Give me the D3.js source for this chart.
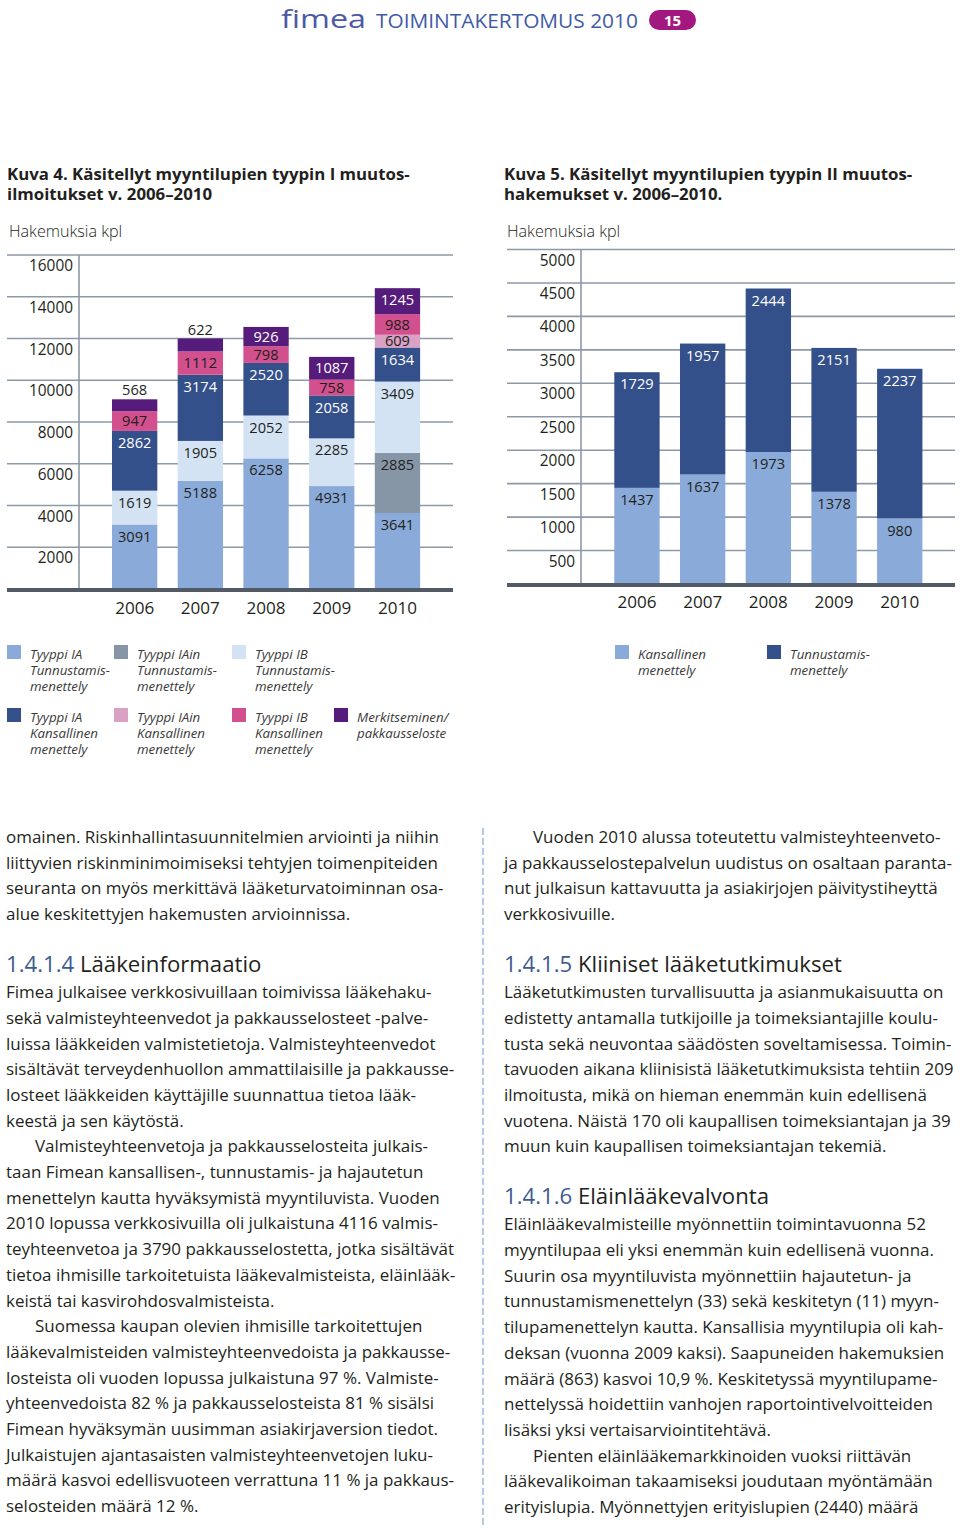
<!DOCTYPE html>
<html>
<head>
<meta charset="utf-8">
<script src="https://cdn.jsdelivr.net/npm/d3@7"></script>
<style>
  body { margin: 0; background: #fff; }
  svg { display: block; }
</style>
</head>
<body>
<script>
//years shared by both charts
var years = ["2006", "2007", "2008", "2009", "2010"];

//Kuva 4 series, bottom to top of each stack
var iaTunnustamis = [3091, 5188, 6258, 4931, 3641];
var iainTunnustamis = [0, 0, 0, 0, 2885];
var ibTunnustamis = [1619, 1905, 2052, 2285, 3409];
var iaKansallinen = [2862, 3174, 2520, 2058, 1634];
var iainKansallinen = [0, 0, 0, 0, 609];
var ibKansallinen = [947, 1112, 798, 758, 988];
var merkitseminen = [568, 622, 926, 1087, 1245];
var ticks4 = [2000, 4000, 6000, 8000, 10000, 12000, 14000, 16000];

//Kuva 5 series
var kansallinen = [1437, 1637, 1973, 1378, 980];
var tunnustamis = [1729, 1957, 2444, 2151, 2237];
var ticks5 = [500, 1000, 1500, 2000, 2500, 3000, 3500, 4000, 4500, 5000];

//legend texts
var legend4Names = [
    ["Tyyppi IA", "Tunnustamis-", "menettely"],
    ["Tyyppi IAin", "Tunnustamis-", "menettely"],
    ["Tyyppi IB", "Tunnustamis-", "menettely"],
    ["Tyyppi IA", "Kansallinen", "menettely"],
    ["Tyyppi IAin", "Kansallinen", "menettely"],
    ["Tyyppi IB", "Kansallinen", "menettely"],
    ["Merkitseminen/", "pakkausseloste"]
];
var legend5Names = [
    ["Kansallinen", "menettely"],
    ["Tunnustamis-", "menettely"]
];

//body text, one entry per printed line
var leftLines = [
    {t: "omainen. Riskinhallintasuunnitelmien arviointi ja niihin"},
    {t: "liittyvien riskinminimoimiseksi tehtyjen toimenpiteiden"},
    {t: "seuranta on myös merkittävä lääketurvatoiminnan osa-"},
    {t: "alue keskitettyjen hakemusten arvioinnissa."},
    {h: "1.4.1.4", t: "Lääkeinformaatio"},
    {t: "Fimea julkaisee verkkosivuillaan toimivissa lääkehaku-"},
    {t: "sekä valmisteyhteenvedot ja pakkausselosteet -palve-"},
    {t: "luissa lääkkeiden valmistetietoja. Valmisteyhteenvedot"},
    {t: "sisältävät terveydenhuollon ammattilaisille ja pakkausse-"},
    {t: "losteet lääkkeiden käyttäjille suunnattua tietoa lääk-"},
    {t: "keestä ja sen käytöstä."},
    {t: "Valmisteyhteenvetoja ja pakkausselosteita julkais-", indent: true},
    {t: "taan Fimean kansallisen-, tunnustamis- ja hajautetun"},
    {t: "menettelyn kautta hyväksymistä myyntiluvista. Vuoden"},
    {t: "2010 lopussa verkkosivuilla oli julkaistuna 4116 valmis-"},
    {t: "teyhteenvetoa ja 3790 pakkausselostetta, jotka sisältävät"},
    {t: "tietoa ihmisille tarkoitetuista lääkevalmisteista, eläinlääk-"},
    {t: "keistä tai kasvirohdosvalmisteista."},
    {t: "Suomessa kaupan olevien ihmisille tarkoitettujen", indent: true},
    {t: "lääkevalmisteiden valmisteyhteenvedoista ja pakkausse-"},
    {t: "losteista oli vuoden lopussa julkaistuna 97 %. Valmiste-"},
    {t: "yhteenvedoista 82 % ja pakkausselosteista 81 % sisälsi"},
    {t: "Fimean hyväksymän uusimman asiakirjaversion tiedot."},
    {t: "Julkaistujen ajantasaisten valmisteyhteenvetojen luku-"},
    {t: "määrä kasvoi edellisvuoteen verrattuna 11 % ja pakkaus-"},
    {t: "selosteiden määrä 12 %."}
];
var rightLines = [
    {t: "Vuoden 2010 alussa toteutettu valmisteyhteenveto-", indent: true},
    {t: "ja pakkausselostepalvelun uudistus on osaltaan paranta-"},
    {t: "nut julkaisun kattavuutta ja asiakirjojen päivitystiheyttä"},
    {t: "verkkosivuille."},
    {h: "1.4.1.5", t: "Kliiniset lääketutkimukset"},
    {t: "Lääketutkimusten turvallisuutta ja asianmukaisuutta on"},
    {t: "edistetty antamalla tutkijoille ja toimeksiantajille koulu-"},
    {t: "tusta sekä neuvontaa säädösten soveltamisessa. Toimin-"},
    {t: "tavuoden aikana kliinisistä lääketutkimuksista tehtiin 209"},
    {t: "ilmoitusta, mikä on hieman enemmän kuin edellisenä"},
    {t: "vuotena. Näistä 170 oli kaupallisen toimeksiantajan ja 39"},
    {t: "muun kuin kaupallisen toimeksiantajan tekemiä."},
    {h: "1.4.1.6", t: "Eläinlääkevalvonta"},
    {t: "Eläinlääkevalmisteille myönnettiin toimintavuonna 52"},
    {t: "myyntilupaa eli yksi enemmän kuin edellisenä vuonna."},
    {t: "Suurin osa myyntiluvista myönnettiin hajautetun- ja"},
    {t: "tunnustamismenettelyn (33) sekä keskitetyn (11) myyn-"},
    {t: "tilupamenettelyn kautta. Kansallisia myyntilupia oli kah-"},
    {t: "deksan (vuonna 2009 kaksi). Saapuneiden hakemuksien"},
    {t: "määrä (863) kasvoi 10,9 %. Keskitetyssä myyntilupame-"},
    {t: "nettelyssä hoidettiin vanhojen raportointivelvoitteiden"},
    {t: "lisäksi yksi vertaisarviointitehtävä."},
    {t: "Pienten eläinlääkemarkkinoiden vuoksi riittävän", indent: true},
    {t: "lääkevalikoiman takaamiseksi joudutaan myöntämään"},
    {t: "erityislupia. Myönnettyjen erityislupien (2440) määrä"}
];

var FONT = "'Open Sans', 'Noto Sans', sans-serif";
var TEXT = "#231f20";

var svg = d3.select("body")
    .append("svg")
    .attr("width", 960)
    .attr("height", 1531)
    .attr("font-family", FONT);

//find the font size that gives a string the width it has in print
function fitSize(str, width, weight, style){
    var t = svg.append("text")
        .attr("font-size", 100)
        .attr("font-weight", weight || 400)
        .attr("font-style", style || "normal")
        .text(str);
    var w = t.node().getComputedTextLength();
    t.remove();
    return 100 * width / w;
}

var bodySize = fitSize("liittyvien riskinminimoimiseksi tehtyjen toimenpiteiden", 432);
var headSize = fitSize("1.4.1.5 Kliiniset lääketutkimukset", 338);
var titleSize = fitSize("Kuva 4. Käsitellyt myyntilupien tyypin I muutos-", 403, 700);
var tickSize = fitSize("16000", 44);
var valueSize = fitSize("3091", 33.5);
var yearSize = fitSize("2006", 39);
var legendSize = fitSize("Tunnustamis-", 80, 400, "italic");
var unitSize = fitSize("Hakemuksia kpl", 119);
var headerSize = fitSize("TOIMINTAKERTOMUS 2010", 262);

//----- page header -----
svg.append("text")
    .attr("x", 281)
    .attr("y", 28)
    .attr("font-size", 26)
    .attr("textLength", 85)
    .attr("lengthAdjust", "spacingAndGlyphs")
    .style("fill", "#4c5aa3")
    .text("fimea");

svg.append("text")
    .attr("x", 376)
    .attr("y", 28)
    .attr("font-size", headerSize)
    .style("fill", "#3f5ba6")
    .text("TOIMINTAKERTOMUS 2010");

svg.append("rect")
    .attr("x", 649)
    .attr("y", 10)
    .attr("width", 47)
    .attr("height", 20)
    .attr("rx", 10)
    .style("fill", "#a3187e");

svg.append("text")
    .attr("x", 672.5)
    .attr("y", 26)
    .attr("text-anchor", "middle")
    .attr("font-size", 15)
    .attr("font-weight", 700)
    .style("fill", "#fff")
    .text("15");

//----- shared chart drawing -----
function drawChart(opt){
    var g = svg.append("g").attr("class", opt.name);

    //title, two lines
    g.selectAll(".title")
        .data(opt.title)
        .enter()
        .append("text")
        .attr("class", "title")
        .attr("x", opt.titleX)
        .attr("y", function(d, i){ return 180 + i * 19.5; })
        .attr("font-size", titleSize)
        .attr("font-weight", 700)
        .style("fill", TEXT)
        .text(function(d){ return d; });

    g.append("text")
        .attr("x", opt.unitX)
        .attr("y", 237)
        .attr("font-size", unitSize)
        .attr("font-weight", 300)
        .style("fill", TEXT)
        .text("Hakemuksia kpl");

    var y = d3.scaleLinear()
        .domain([0, opt.max])
        .range([opt.zeroY, opt.topY]);

    var x = d3.scaleBand()
        .domain(years)
        .range(opt.xRange)
        .paddingInner(0.31)
        .paddingOuter(0.155);

    //horizontal gridlines
    g.selectAll(".grid")
        .data(opt.ticks)
        .enter()
        .append("line")
        .attr("class", "grid")
        .attr("x1", opt.left)
        .attr("x2", opt.right)
        .attr("y1", function(d){ return y(d); })
        .attr("y2", function(d){ return y(d); })
        .style("stroke", "#8d99a6")
        .style("stroke-width", 1.6);

    //vertical axis line
    g.append("line")
        .attr("x1", opt.axisX)
        .attr("x2", opt.axisX)
        .attr("y1", y(opt.max))
        .attr("y2", y(0))
        .style("stroke", "#8d99a6")
        .style("stroke-width", 1.6);

    //y tick labels (printed just under their gridline)
    var yAxis = d3.axisLeft(y)
        .tickValues(opt.ticks)
        .tickSize(0)
        .tickPadding(6)
        .tickFormat(d3.format("d"));

    var ya = g.append("g")
        .attr("transform", "translate(" + opt.axisX + ",0)")
        .call(yAxis);
    ya.select(".domain").remove();
    ya.selectAll("text")
        .attr("dy", "0.75em")
        .attr("y", 4)
        .attr("font-family", FONT)
        .attr("font-size", tickSize)
        .style("fill", TEXT);

    //stacked bars
    var table = years.map(function(yr, i){
        var row = {year: yr};
        opt.series.forEach(function(s){ row[s.key] = s.values[i]; });
        return row;
    });
    var stacked = d3.stack()
        .keys(opt.series.map(function(s){ return s.key; }))(table);

    var layers = g.selectAll(".layer")
        .data(stacked)
        .enter()
        .append("g")
        .attr("class", "layer")
        .style("fill", function(d, i){ return opt.series[i].color; });

    layers.selectAll("rect")
        .data(function(d){ return d.filter(function(p){ return p[1] > p[0]; }); })
        .enter()
        .append("rect")
        .attr("x", function(d){ return x(d.data.year); })
        .attr("width", x.bandwidth())
        .attr("y", function(d){ return y(d[1]); })
        .attr("height", function(d){ return y(d[0]) - y(d[1]); });

    //value labels
    stacked.forEach(function(layer, li){
        var s = opt.series[li];
        var isTop = li === stacked.length - 1;
        g.selectAll(".lab-" + s.key)
            .data(layer.filter(function(p){ return p[1] > p[0]; }))
            .enter()
            .append("text")
            .attr("class", "lab-" + s.key)
            .attr("x", function(d){ return x(d.data.year) + x.bandwidth() / 2; })
            .attr("y", function(d){
                var top = y(d[1]), h = y(d[0]) - y(d[1]);
                if (isTop && h < 15) return top - 9; //too thin, print above
                return top + Math.min(12, h / 2);
            })
            .attr("dy", "0.35em")
            .attr("text-anchor", "middle")
            .attr("font-size", valueSize)
            .style("fill", function(d){
                var h = y(d[0]) - y(d[1]);
                if (isTop && h < 15) return TEXT;
                return s.light ? "#fff" : TEXT;
            })
            .text(function(d){ return d[1] - d[0]; });
    });

    //thick baseline
    g.append("line")
        .attr("x1", opt.left)
        .attr("x2", opt.right)
        .attr("y1", y(0) + 1)
        .attr("y2", y(0) + 1)
        .style("stroke", "#525b65")
        .style("stroke-width", 4);

    //years
    var xAxis = d3.axisBottom(x).tickSize(0).tickPadding(opt.yearPad);
    var xa = g.append("g")
        .attr("transform", "translate(0," + y(0) + ")")
        .call(xAxis);
    xa.select(".domain").remove();
    xa.selectAll("text")
        .attr("font-family", FONT)
        .attr("font-size", yearSize)
        .style("fill", TEXT);

    //legend
    var items = g.selectAll(".legend")
        .data(opt.series)
        .enter()
        .append("g")
        .attr("class", "legend")
        .attr("transform", function(d, i){
            return "translate(" + opt.legendX[i] + "," + opt.legendY[i] + ")";
        });
    items.append("rect")
        .attr("width", 14)
        .attr("height", 14)
        .style("fill", function(d){ return d.color; });
    items.append("text")
        .attr("font-size", legendSize)
        .attr("font-style", "italic")
        .style("fill", "#3a3a3a")
        .selectAll("tspan")
        .data(function(d){ return d.label; })
        .enter()
        .append("tspan")
        .attr("x", 23)
        .attr("y", function(d, i){ return 14 + i * 16; })
        .text(function(d){ return d; });
}

//Kuva 4
drawChart({
    name: "kuva4",
    title: ["Kuva 4. Käsitellyt myyntilupien tyypin I muutos-", "ilmoitukset v. 2006–2010"],
    titleX: 7,
    unitX: 9,
    max: 16000,
    zeroY: 589,
    topY: 255,
    ticks: ticks4,
    xRange: [101.8, 430.3],
    left: 7,
    right: 453,
    axisX: 79,
    yearPad: 13,
    series: [
        {key: "iaT", values: iaTunnustamis, color: "#8aabd9", label: legend4Names[0]},
        {key: "iainT", values: iainTunnustamis, color: "#8796a7", label: legend4Names[1]},
        {key: "ibT", values: ibTunnustamis, color: "#d3e3f3", label: legend4Names[2]},
        {key: "iaK", values: iaKansallinen, color: "#34508b", label: legend4Names[3], light: true},
        {key: "iainK", values: iainKansallinen, color: "#d9a1c4", label: legend4Names[4]},
        {key: "ibK", values: ibKansallinen, color: "#d2508d", label: legend4Names[5]},
        {key: "merk", values: merkitseminen, color: "#561c7b", label: legend4Names[6], light: true}
    ],
    legendX: [7, 114, 232, 7, 114, 232, 334],
    legendY: [645, 645, 645, 708, 708, 708, 708]
});

//Kuva 5
drawChart({
    name: "kuva5",
    title: ["Kuva 5. Käsitellyt myyntilupien tyypin II muutos-", "hakemukset v. 2006–2010."],
    titleX: 504,
    unitX: 507,
    max: 5000,
    zeroY: 584,
    topY: 249.5,
    ticks: ticks5,
    xRange: [604.1, 932.6],
    left: 507,
    right: 955,
    axisX: 581,
    yearPad: 12,
    series: [
        {key: "kans", values: kansallinen, color: "#8aabd9", label: legend5Names[0]},
        {key: "tunn", values: tunnustamis, color: "#34508b", label: legend5Names[1], light: true}
    ],
    legendX: [615, 767],
    legendY: [645, 645]
});

//----- body text -----
function drawColumn(lines, x0){
    var col = svg.append("g");
    var yPos = 843 - 25.7;
    lines.forEach(function(line, i){
        if (line.h){
            //heading sits a blank line below the paragraph
            yPos += 52;
            var t = col.append("text")
                .attr("x", x0)
                .attr("y", yPos)
                .attr("font-size", headSize)
                .style("fill", TEXT);
            t.append("tspan").style("fill", "#3e5b8f").text(line.h + " ");
            t.append("tspan").text(line.t);
            yPos += 26 - 25.7;
            return;
        }
        yPos += 25.7;
        col.append("text")
            .attr("x", line.indent ? x0 + 29 : x0)
            .attr("y", yPos)
            .attr("font-size", bodySize)
            .style("fill", TEXT)
            .text(line.t);
    });
}
drawColumn(leftLines, 6);
drawColumn(rightLines, 504);

//dashed column divider
svg.append("line")
    .attr("x1", 483)
    .attr("x2", 483)
    .attr("y1", 828)
    .attr("y2", 1528)
    .style("stroke", "#9cb6df")
    .style("stroke-width", 1.5)
    .style("stroke-dasharray", "7,3");
</script>
</body>
</html>
